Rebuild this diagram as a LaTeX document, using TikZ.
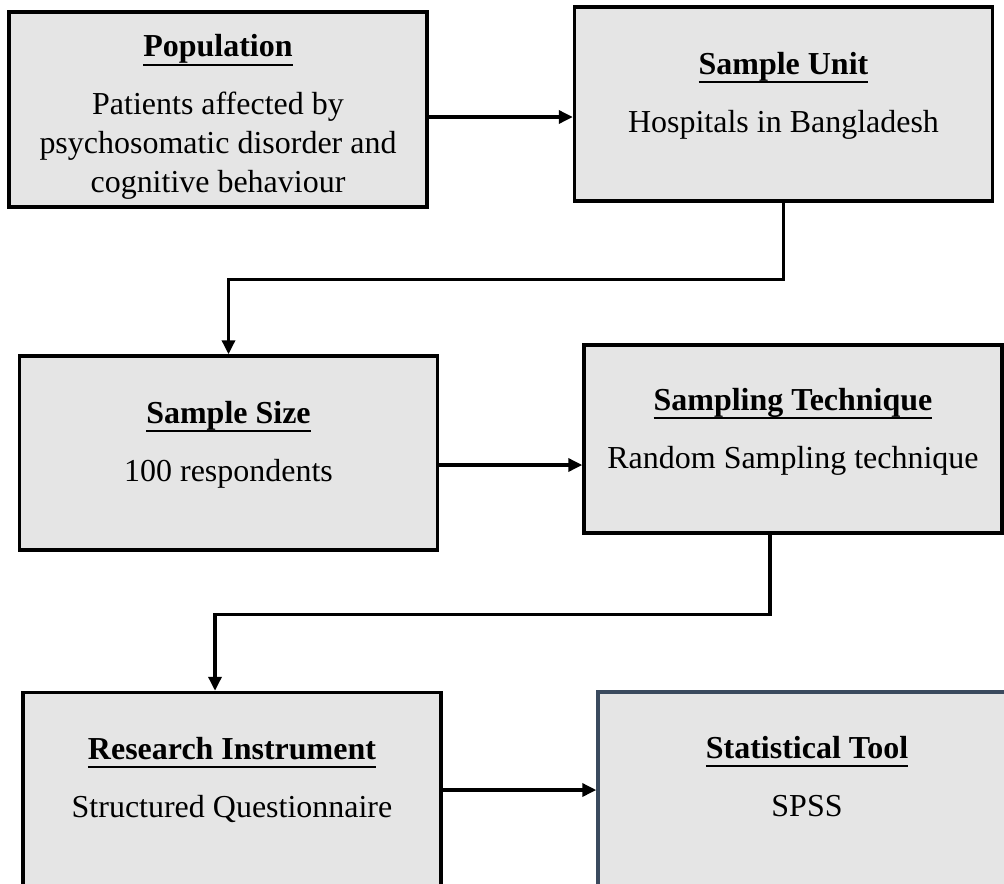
\documentclass[tikz,border=0pt]{standalone}
\usepackage{fontspec}
\setmainfont{Liberation Serif}
\usetikzlibrary{arrows.meta}
\definecolor{boxgray}{HTML}{E5E5E5}
\definecolor{toolline}{HTML}{3A4A5E}
\newcommand{\hd}[1]{\setbox0=\hbox{\textbf{#1}}\dp0=0pt\vtop{\copy0\kern4.2pt\hrule height 1.1pt width \wd0}}
\begin{document}
\begin{tikzpicture}[x=0.02cm, y=-0.02cm, >={Triangle[length=0.28cm,width=0.26cm]}, font=\fontsize{18.2}{22}\selectfont]
	\tikzset{box/.style={draw, line width=2pt, fill=boxgray, minimum width=8.36cm, inner sep=0pt},
		txt/.style={align=center, anchor=base, inner sep=0pt},
		arr/.style={->, line width=1.9pt}}
	\clip (0,0) rectangle (1004,883);
	% boxes
	\node[box, minimum height=3.9cm] (pop) at (218,109.5) {};
	\node[box, minimum height=3.88cm] (unit) at (783.5,104) {};
	\node[box, minimum height=3.88cm] (size) at (228.5,453) {};
	\node[box, minimum height=3.76cm] (tech) at (793,439) {};
	\node[box, minimum height=3.9cm] (instr) at (232,790) {};
	\node[box, draw=toolline, minimum height=3.9cm] (tool) at (807,789.5) {};
	% texts (base = last line)
	\node[txt] (popT) at (218,192) {\hd{Population}\\[11pt]Patients affected by\\psychosomatic disorder and\\cognitive behaviour};
	\node[txt] (unitT) at (783.5,132) {\hd{Sample Unit}\\[11pt]Hospitals in Bangladesh};
	\node[txt] (sizeT) at (228.5,481) {\hd{Sample Size}\\[11pt]100 respondents};
	\node[txt] (techT) at (793,468) {\hd{Sampling Technique}\\[11pt]Random Sampling technique};
	\node[txt] (instrT) at (232,817) {\hd{Research Instrument}\\[11pt]Structured Questionnaire};
	\node[txt] (toolT) at (807,816) {\hd{Statistical Tool}\\[11pt]SPSS};
	% connectors
	\draw[arr] ([yshift=-0.15cm]pop.east) -- ([yshift=-0.15cm]pop.east -| unit.west);
	\draw[arr] (unit.south) -- ++(0,77) -| (size.north);
	\draw[arr] ([yshift=-0.24cm]size.east) -- ([yshift=-0.24cm]size.east -| tech.west);
	\draw[arr] ([xshift=-0.46cm]tech.south) -- ++(0,80) -| ([xshift=-0.34cm]instr.north);
	\draw[arr] (instr.east) -- (instr.east -| tool.west);
\end{tikzpicture}
\end{document}
